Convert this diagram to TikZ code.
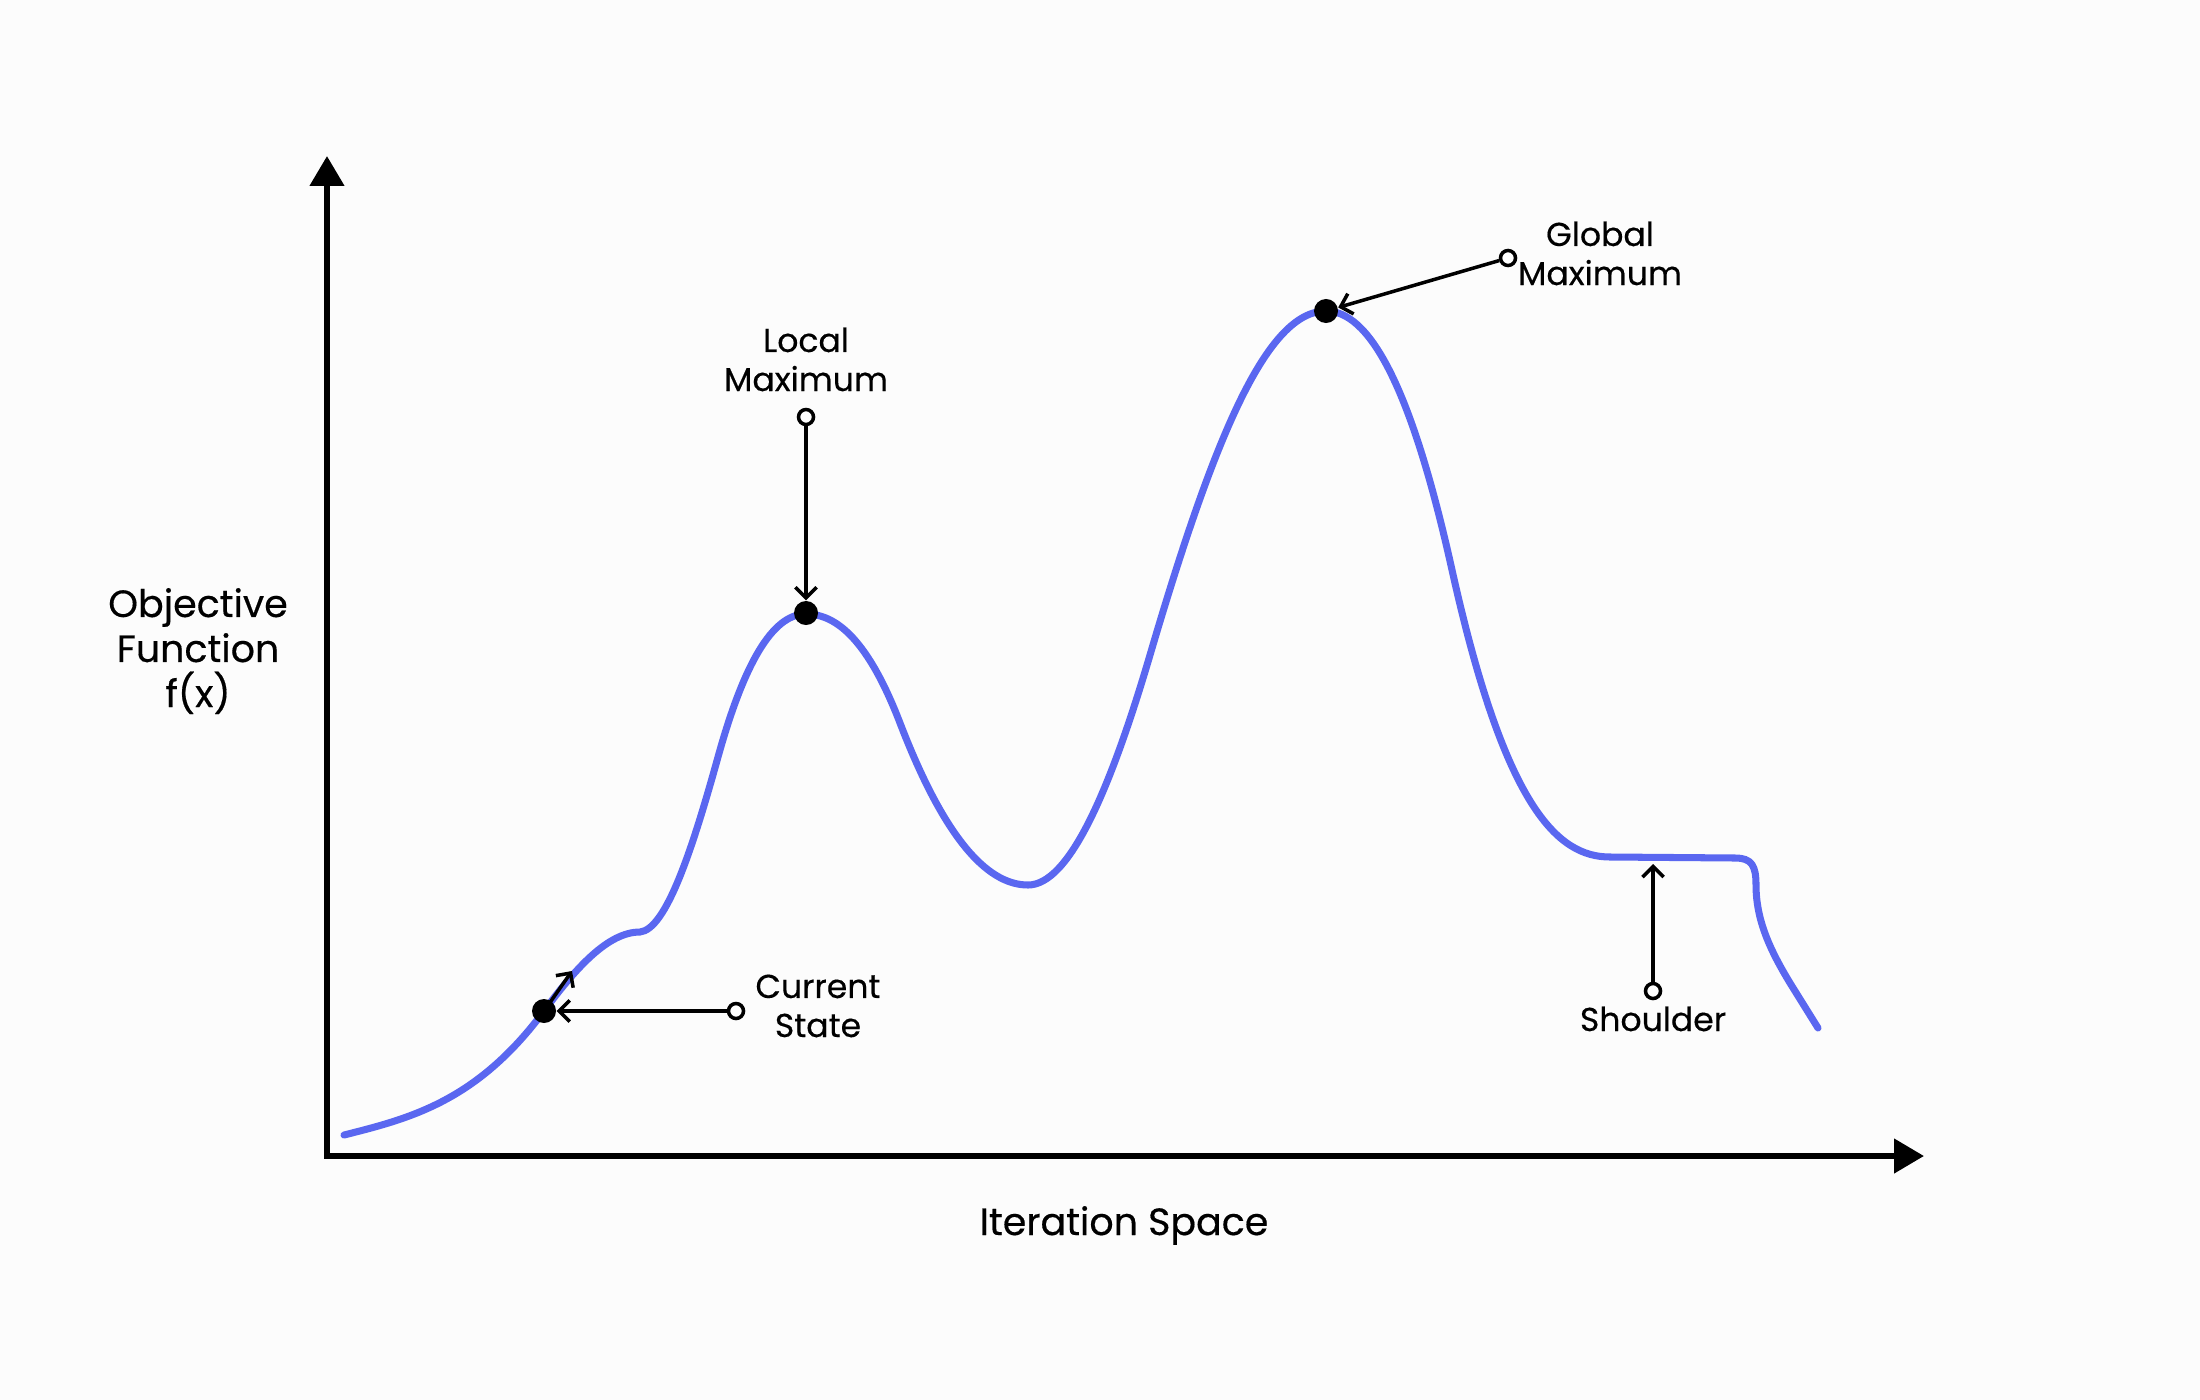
\documentclass[tikz,border=0pt]{standalone}
\usepackage{fontspec}
\setmainfont{Poppins}[FakeBold=0.4]
\usetikzlibrary{arrows.meta}
\definecolor{curveblue}{RGB}{90,103,240}
\definecolor{bgcol}{RGB}{252,252,252}
\tikzset{
  axisline/.style={line width=1.7pt, line join=miter, {Triangle[length=8.5pt,width=9.5pt]}-{Triangle[length=8.5pt,width=9.5pt]}},
  curveline/.style={line width=2.0pt, curveblue, line cap=round},
  annot/.style={line width=1.0pt, -{Straight Barb[length=3pt,width=6pt,line width=1.0pt]}},
  bigdot/.style={circle, fill=black, minimum size=0.24cm, inner sep=0pt},
  opendot/.style={circle, draw=black, fill=white, line width=1.0pt, minimum size=0.15cm, inner sep=0pt},
  lbl/.style={align=center, font=\fontsize{9.4}{11.1}\selectfont, inner sep=0pt, anchor=base},
  axlbl/.style={align=center, font=\fontsize{10.8}{12.8}\selectfont, inner sep=0pt, anchor=base},
}
\begin{document}
\begin{tikzpicture}[x=0.01cm, y=-0.01cm]
\fill[bgcol] (0,0) rectangle (2200,1400);
\useasboundingbox (0,0) rectangle (2200,1400);

% axes
\coordinate (ytop) at (327,156);
\coordinate (xend) at (1924,1156);
\draw[axisline] (ytop) |- (xend);

% curve
\draw[curveline]
 (344,1135) .. controls (410.7,1118.3) and (477.3,1101) .. (544,1011)
 .. controls (576,967.8) and (608,932) .. (640,932)
 .. controls (666,929.4) and (692,850.6) .. (718,757)
 .. controls (747.3,651.4) and (776.7,614) .. (806,614)
 .. controls (837.3,614) and (868.7,641.6) .. (900,723)
 .. controls (942.7,834) and (985.3,885) .. (1028,885)
 .. controls (1068.7,885) and (1109.3,793) .. (1150,655)
 .. controls (1215,434) and (1267.3,311) .. (1326,311)
 .. controls (1368,311) and (1410,381) .. (1452,570)
 .. controls (1504.7,807) and (1557.3,857) .. (1610,857)
 -- (1735,858)
 .. controls (1752,858) and (1756,866) .. (1756,885)
 .. controls (1756,920) and (1770,950) .. (1790,983)
 -- (1818,1028);

% points of interest
\node[bigdot] (cs) at (544,1011) {};
\node[bigdot] (lm) at (806,613) {};
\node[bigdot] (gm) at (1326,311) {};
\coordinate (cstip) at (572,971);
\coordinate (shpt) at (1653,864);

% label anchors
\node[opendot] (csc) at (736,1011) {};
\node[opendot] (lmc) at (806,417) {};
\node[opendot] (gmc) at (1508,258) {};
\node[opendot] (shc) at (1653,991) {};

% connectors
\draw[annot] (cs.center) -- (cstip);
\draw[annot] (csc) -- (cs);
\draw[annot] (lmc) -- (lm);
\draw[annot] (gmc) -- (gm);
\draw[annot] (shc) -- (shpt);

% labels
\node[lbl] (lmlbl) at (806,391) {Local\\Maximum};
\node[lbl] (gmlbl) at (1600,285) {Global\\Maximum};
\node[lbl] (cslbl) at (818,1037) {Current\\State};
\node[lbl] (shlbl) at (1653,1031) {Shoulder};
\node[axlbl] (ylbl) at (198,707) {Objective\\Function\\f(x)};
\node[axlbl] (xlbl) at (1124,1235) {Iteration Space};
\end{tikzpicture}
\end{document}
